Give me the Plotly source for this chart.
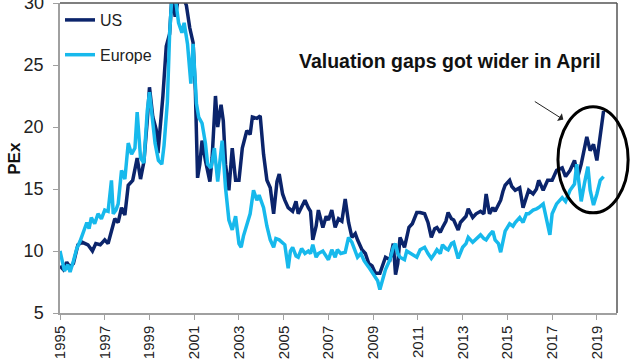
import plotly.graph_objects as go

# US forward PE (decimal year, value)
us_t = [1995.0, 1995.15, 1995.3, 1995.45, 1995.6, 1995.8, 1996.0, 1996.25, 1996.45, 1996.6, 1996.8,
        1997.0, 1997.15, 1997.3, 1997.45, 1997.6, 1997.75, 1997.9, 1998.05, 1998.25, 1998.45, 1998.6,
        1998.75, 1998.9, 1999.0, 1999.15, 1999.3, 1999.38, 1999.5, 1999.6, 1999.75, 1999.9, 2000.0,
        2000.15, 2000.3, 2000.5, 2000.65, 2000.8, 2000.95, 2001.05, 2001.15, 2001.25, 2001.35, 2001.5,
        2001.7, 2001.8, 2001.95, 2002.05, 2002.2, 2002.3, 2002.4, 2002.55, 2002.7, 2002.85, 2003.0,
        2003.15, 2003.35, 2003.5, 2003.6, 2003.8, 2003.95, 2004.1, 2004.25, 2004.4, 2004.55, 2004.7,
        2004.8, 2004.95, 2005.05, 2005.2, 2005.4, 2005.55, 2005.65, 2005.85, 2005.95, 2006.1, 2006.2,
        2006.3, 2006.45, 2006.55, 2006.65, 2006.75, 2006.9, 2007.0, 2007.15, 2007.3, 2007.45, 2007.6,
        2007.75, 2007.9, 2008.05, 2008.2, 2008.3, 2008.5, 2008.65, 2008.8, 2008.95, 2009.1, 2009.3,
        2009.45, 2009.55, 2009.75, 2009.9, 2010.0, 2010.1, 2010.2, 2010.4, 2010.6, 2010.75, 2010.95,
        2011.1, 2011.3, 2011.45, 2011.6, 2011.75, 2011.85, 2012.0, 2012.1, 2012.25, 2012.35, 2012.5,
        2012.6, 2012.8, 2012.9, 2013.0, 2013.15, 2013.25, 2013.45, 2013.6, 2013.8, 2013.95, 2014.05,
        2014.2, 2014.35, 2014.45, 2014.6, 2014.7, 2014.8, 2014.9, 2015.1, 2015.2, 2015.35, 2015.55,
        2015.7, 2015.85, 2015.95, 2016.15, 2016.3, 2016.4, 2016.6, 2016.8, 2017.0, 2017.2, 2017.45,
        2017.6, 2017.8, 2018.0, 2018.15, 2018.3, 2018.4, 2018.55, 2018.7, 2018.85, 2019.0, 2019.15,
        2019.3]
us_pe = [8.8, 8.5, 9.1, 8.7, 9.0, 10.5, 10.7, 10.5, 10.0, 10.6, 10.5,
         10.9, 10.6, 11.6, 12.6, 12.3, 13.5, 12.9, 15.3, 15.7, 17.5, 15.8,
         17.2, 20.5, 23.2, 20.8, 19.8, 17.9, 20.4, 22.5, 26.5, 27.5, 30.5,
         28.9, 30.5, 30.5, 29.8, 28.0, 26.8, 23.0, 15.9, 17.0, 18.9, 17.3,
         15.6, 17.5, 22.5, 20.0, 21.8, 20.5, 17.0, 14.9, 18.3, 15.7, 15.7,
         18.3, 19.7, 19.4, 20.8, 20.7, 20.9, 17.8, 15.7, 15.1, 13.0, 15.6,
         16.2, 14.6, 14.1, 13.5, 13.2, 14.0, 13.0, 13.8, 14.1, 13.5, 13.2,
         10.9, 12.0, 13.3, 12.5, 11.9, 12.8, 12.5, 13.3, 11.9, 12.6, 12.4,
         14.2, 12.3, 11.1, 11.4, 10.9, 10.1, 9.8, 9.0, 8.8, 8.2, 8.2,
         8.9, 9.5, 9.3, 10.6, 8.1, 9.0, 11.1, 10.3, 11.9, 12.2, 13.1,
         13.1, 13.0, 12.3, 11.1, 11.8, 11.9, 11.5, 11.9, 12.4, 13.1, 12.6,
         12.5, 11.7, 12.3, 12.5, 12.8, 13.4, 12.7, 13.0, 13.2, 13.0, 14.6,
         13.0, 13.5, 13.2, 13.8, 14.1, 14.8, 15.3, 15.7, 15.2, 14.9, 15.1,
         13.5, 14.3, 14.9, 14.6, 15.0, 15.7, 14.9, 15.7, 15.7, 16.5, 16.7,
         16.0, 16.5, 17.3, 16.0, 17.0, 17.9, 19.2, 18.1, 18.6, 17.3, 19.2,
         21.3]

# Europe forward PE (decimal year, value)
eu_t = [1995.0, 1995.1, 1995.2, 1995.35, 1995.45, 1995.6, 1995.75, 1995.9, 1996.05, 1996.2, 1996.3,
        1996.4, 1996.55, 1996.7, 1996.85, 1997.0, 1997.15, 1997.3, 1997.38, 1997.5, 1997.6, 1997.75,
        1997.9, 1998.05, 1998.2, 1998.35, 1998.45, 1998.6, 1998.75, 1998.9, 1999.0, 1999.15, 1999.25,
        1999.4, 1999.55, 1999.65, 1999.8, 1999.9, 2000.0, 2000.15, 2000.3, 2000.45, 2000.55, 2000.7,
        2000.85, 2000.95, 2001.1, 2001.2, 2001.35, 2001.5, 2001.6, 2001.75, 2001.9, 2002.05, 2002.25,
        2002.4, 2002.55, 2002.7, 2002.85, 2003.0, 2003.1, 2003.2, 2003.4, 2003.5, 2003.65, 2003.8,
        2003.9, 2004.1, 2004.25, 2004.4, 2004.55, 2004.65, 2004.8, 2005.05, 2005.2, 2005.3, 2005.4,
        2005.55, 2005.65, 2005.8, 2005.95, 2006.1, 2006.2, 2006.3, 2006.45, 2006.55, 2006.75, 2006.9,
        2007.0, 2007.15, 2007.3, 2007.4, 2007.55, 2007.75, 2007.9, 2008.05, 2008.2, 2008.3, 2008.45,
        2008.6, 2008.8, 2008.95, 2009.1, 2009.2, 2009.3, 2009.4, 2009.55, 2009.75, 2009.9, 2010.0,
        2010.1, 2010.2, 2010.4, 2010.5, 2010.6, 2010.8, 2010.95, 2011.1, 2011.3, 2011.45, 2011.6,
        2011.75, 2011.85, 2012.0, 2012.1, 2012.25, 2012.35, 2012.5, 2012.6, 2012.8, 2012.9, 2013.0,
        2013.15, 2013.25, 2013.45, 2013.6, 2013.8, 2013.95, 2014.05, 2014.2, 2014.35, 2014.45, 2014.6,
        2014.7, 2014.8, 2014.9, 2015.1, 2015.25, 2015.35, 2015.55, 2015.7, 2015.85, 2015.95, 2016.15,
        2016.3, 2016.4, 2016.6, 2016.75, 2016.9, 2017.0, 2017.2, 2017.45, 2017.6, 2017.8, 2018.0,
        2018.1, 2018.2, 2018.3, 2018.45, 2018.6, 2018.7, 2018.85, 2019.0, 2019.15, 2019.3]
eu_pe = [10.0, 9.2, 8.4, 8.9, 8.3, 9.2, 10.2, 10.8, 11.5, 12.3, 11.8,
         12.7, 12.2, 13.0, 12.6, 13.3, 13.2, 15.7, 13.0, 13.3, 13.8, 16.5,
         15.8, 18.7, 17.8, 18.3, 21.2, 17.5, 17.1, 21.3, 22.8, 20.5, 18.7,
         17.3, 17.0, 18.5, 22.0, 27.5, 30.5, 30.5, 28.4, 27.6, 28.4, 26.7,
         23.5, 26.7, 21.9, 20.8, 20.3, 18.7, 17.0, 16.7, 18.3, 15.6, 18.9,
         15.1, 12.5, 11.7, 12.8, 10.6, 10.3, 11.2, 12.5, 13.0, 14.9, 14.1,
         14.5, 13.5, 12.0, 10.9, 10.3, 11.0, 10.9, 10.5, 8.6, 10.0, 10.3,
         9.6, 9.5, 10.2, 9.8, 10.0, 9.8, 10.5, 9.5, 9.8, 10.0, 9.5,
         9.3, 10.1, 9.5, 10.1, 9.8, 9.9, 11.1, 10.7, 10.0, 9.5, 9.8,
         9.2, 8.7, 8.3, 7.9, 7.6, 6.9, 7.5, 8.5, 9.3, 10.3, 10.6,
         9.8, 9.5, 9.3, 10.0, 9.9, 9.7, 9.5, 10.1, 10.3, 9.8, 9.4,
         9.8, 10.1, 9.8, 10.5, 10.2, 10.1, 10.6, 10.7, 9.4, 9.8, 10.3,
         10.6, 11.1, 10.7, 11.0, 11.3, 11.0, 10.9, 11.3, 11.6, 10.9, 10.6,
         9.9, 10.9, 11.6, 12.2, 12.0, 12.3, 12.7, 12.3, 13.0, 13.0, 13.3,
         13.4, 13.5, 13.8, 12.5, 11.3, 13.0, 13.8, 14.3, 14.0, 14.9, 15.4,
         17.0, 15.5, 14.0, 15.5, 16.8, 14.9, 13.7, 14.6, 15.7, 16.0]

year_ticks = list(range(1995, 2020, 2))
pe_ticks = [5, 10, 15, 20, 25, 30]

US_COLOR = "#0b246b"
EU_COLOR = "#17b9ec"
FONT = "Liberation Sans, Arial, sans-serif"

fig = go.Figure()
fig.add_trace(go.Scatter(x=us_t, y=us_pe, mode="lines", name="US",
                         line=dict(color=US_COLOR, width=3.5), legendgroup="a"))
fig.add_trace(go.Scatter(x=eu_t, y=eu_pe, mode="lines", name="Europe",
                         line=dict(color=EU_COLOR, width=3.5), legendgroup="b"))

fig.update_layout(
    width=640, height=360,
    margin=dict(l=60, r=23, t=3, b=47, autoexpand=False),
    paper_bgcolor="white", plot_bgcolor="white",
    font=dict(family=FONT, color="#222", size=15),
    showlegend=True,
    legend=dict(x=0.0, y=1.0, xanchor="left", yanchor="top",
                font=dict(size=16, color="#222"), bgcolor="rgba(0,0,0,0)",
                tracegroupgap=11, itemwidth=30),
    xaxis=dict(range=[1995, 2019.9], tickmode="array", tickvals=year_ticks,
               ticktext=[str(y) for y in year_ticks], tickangle=-90, automargin=False,
               showgrid=False, zeroline=False, showline=True, linecolor="#a0a0a0",
               linewidth=1.5, ticks="outside", ticklen=5, tickcolor="#a0a0a0",
               tickfont=dict(size=15, color="#222")),
    yaxis=dict(range=[5, 30], tickmode="array", tickvals=pe_ticks, automargin=False,
               showgrid=False, zeroline=False, showline=True, linecolor="#a0a0a0",
               linewidth=1.5, ticks="outside", ticklen=5, tickcolor="#a0a0a0",
               ticklabelstandoff=6,
               tickfont=dict(size=18, color="#222")),
)

# top tick label (plotly hides it at the page edge)
fig.add_annotation(text=str(pe_ticks[-1]), xref="paper", yref="y", x=0, y=pe_ticks[-1],
                   xanchor="right", yanchor="middle", xshift=-14, showarrow=False,
                   font=dict(size=18, color="#222"))

# frame top & right
fig.add_shape(type="line", xref="paper", yref="paper", x0=0, x1=1, y0=1, y1=1,
              line=dict(color="#555", width=1.5))
fig.add_shape(type="line", xref="paper", yref="paper", x0=1, x1=1, y0=0, y1=1,
              line=dict(color="#555", width=1.5))

# y-axis title
fig.add_annotation(text="<b>PEx</b>", xref="paper", yref="paper", x=-0.083, y=0.5,
                   textangle=-90, showarrow=False, font=dict(size=17, color="#111"),
                   xanchor="center", yanchor="middle")

# callout
fig.add_annotation(text="<b>Valuation gaps got wider in April</b>", xref="paper", yref="paper",
                   x=0.70, y=0.813, showarrow=False, font=dict(size=19.5, color="#111"),
                   xanchor="center", yanchor="middle")
fig.add_annotation(x=2017.5, y=20.6, xref="x", yref="y", ax=-30, ay=-19,
                   showarrow=True, arrowhead=1, arrowsize=1.5, arrowwidth=1, arrowcolor="#222",
                   text="")
fig.add_shape(type="circle", xref="paper", yref="paper", x0=0.894, x1=1.020, y0=0.323, y1=0.665,
              line=dict(color="black", width=3))

fig.write_html("out.html", config={"displayModeBar": False},
               post_script="document.body.style.margin='0';document.body.style.overflow='hidden';")
